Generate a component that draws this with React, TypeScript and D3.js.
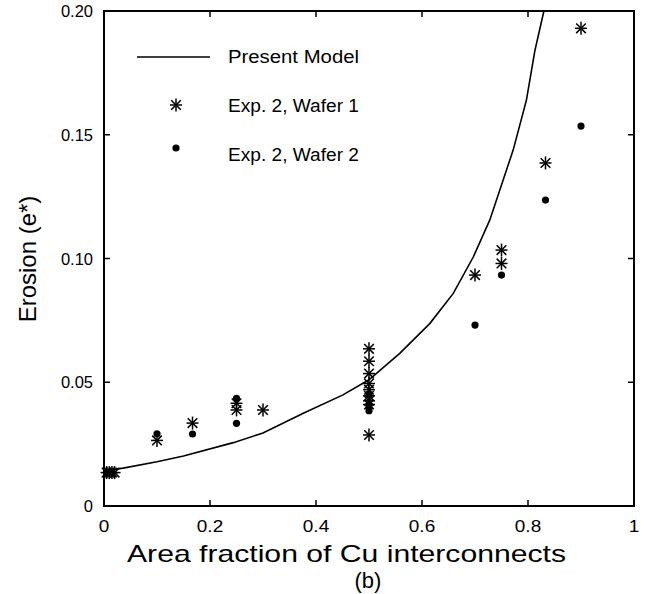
import React from 'react';
import * as d3 from 'd3';

// values
const modelX = [0, 0.036, 0.1, 0.15, 0.244, 0.3, 0.376, 0.45, 0.5, 0.558, 0.615, 0.659, 0.697, 0.728, 0.772, 0.797, 0.813, 0.83];
const modelY = [0.0142, 0.0153, 0.0179, 0.0202, 0.0256, 0.0295, 0.0375, 0.0448, 0.051, 0.0617, 0.0738, 0.0859, 0.1007, 0.1156, 0.1438, 0.164, 0.184, 0.2];

const wafer1X = [0.005, 0.01, 0.015, 0.02, 0.1, 0.167, 0.25, 0.25, 0.3, 0.5, 0.5, 0.5, 0.5, 0.5, 0.5, 0.5, 0.5, 0.5, 0.7, 0.75, 0.75, 0.833, 0.9];
const wafer1Y = [0.0135, 0.0135, 0.0135, 0.0135, 0.0265, 0.0335, 0.0415, 0.0388, 0.0388, 0.0635, 0.0585, 0.0535, 0.0495, 0.047, 0.0445, 0.0425, 0.041, 0.0287, 0.0933, 0.1034, 0.098, 0.1386, 0.193];

const wafer2X = [0.005, 0.015, 0.1, 0.167, 0.25, 0.25, 0.5, 0.5, 0.5, 0.7, 0.75, 0.833, 0.9];
const wafer2Y = [0.0135, 0.0135, 0.0292, 0.0291, 0.0435, 0.0334, 0.045, 0.0405, 0.0385, 0.0731, 0.0933, 0.1236, 0.1535];

const xTicks = [0, 0.2, 0.4, 0.6, 0.8, 1];
const yTicks = [0, 0.05, 0.1, 0.15, 0.2];
const xTickLabels = ['0', '0.2', '0.4', '0.6', '0.8', '1'];
const yTickLabels = ['0', '0.05', '0.10', '0.15', '0.20'];

const legendLabels = ['Present Model', 'Exp. 2, Wafer 1', 'Exp. 2, Wafer 2'];

const W = 655;
const H = 594;
const margin = { top: 11, right: 21, bottom: 88, left: 104 };
const font = '"Liberation Sans", Arial, Helvetica, sans-serif';

const Star: React.FC<{ cx: number; cy: number }> = ({ cx, cy }) => (
  <g stroke="#000" strokeWidth={1.5} transform={`translate(${cx},${cy})`}>
    <line x1={0} y1={-6.5} x2={0} y2={6.5} />
    <line x1={-6} y1={0} x2={6} y2={0} />
    <line x1={-4.8} y1={-4.8} x2={4.8} y2={4.8} />
    <line x1={-4.8} y1={4.8} x2={4.8} y2={-4.8} />
  </g>
);

export default function App() {
  const innerW = W - margin.left - margin.right;
  const innerH = H - margin.top - margin.bottom;
  const x = d3.scaleLinear().domain([0, 1]).range([margin.left, margin.left + innerW]);
  const y = d3.scaleLinear().domain([0, 0.2]).range([margin.top + innerH, margin.top]);

  const line = d3.line<number>()
    .x((_, i) => x(modelX[i]))
    .y((d) => y(d));

  const x0 = margin.left;
  const x1 = margin.left + innerW;
  const y0 = margin.top + innerH;
  const y1 = margin.top;
  const tick = 6;

  return (
    <div style={{ position: 'absolute', left: 0, top: 0 }}>
      <svg width={W} height={H} style={{ display: 'block', background: '#fff' }} fontFamily={font}>
        <defs>
          <clipPath id="plotClip">
            <rect x={x0} y={y1} width={innerW} height={innerH} />
          </clipPath>
        </defs>

        {/* ticks, inward on all four sides */}
        {xTicks.slice(1, -1).map((t) => (
          <g key={`xt${t}`} stroke="#000" strokeWidth={1.5}>
            <line x1={x(t)} x2={x(t)} y1={y0} y2={y0 - tick} />
            <line x1={x(t)} x2={x(t)} y1={y1} y2={y1 + tick} />
          </g>
        ))}
        {yTicks.slice(1, -1).map((t) => (
          <g key={`yt${t}`} stroke="#000" strokeWidth={1.5}>
            <line x1={x0} x2={x0 + tick} y1={y(t)} y2={y(t)} />
            <line x1={x1} x2={x1 - tick} y1={y(t)} y2={y(t)} />
          </g>
        ))}

        {/* tick labels */}
        {xTicks.map((t, i) => (
          <g key={`xl${t}`} transform={`translate(${x(t)},532) scale(1.15,1)`}>
            <text textAnchor="middle" fontSize={16.5} fill="#000">{xTickLabels[i]}</text>
          </g>
        ))}
        {yTicks.map((t, i) => (
          <text key={`yl${t}`} x={93} y={y(t) + 6} textAnchor="end" fontSize={16.5} fill="#000">
            {yTickLabels[i]}
          </text>
        ))}

        {/* model curve */}
        <path d={line(modelY) ?? ''} fill="none" stroke="#000" strokeWidth={1.6} clipPath="url(#plotClip)" />

        {/* wafer 2 dots */}
        {wafer2X.map((v, i) => (
          <circle key={`w2${i}`} cx={x(v)} cy={y(wafer2Y[i])} r={3.6} fill="#000" />
        ))}

        {/* wafer 1 stars */}
        {wafer1X.map((v, i) => (
          <Star key={`w1${i}`} cx={x(v)} cy={y(wafer1Y[i])} />
        ))}

        {/* frame */}
        <rect x={x0} y={y1} width={innerW} height={innerH} fill="none" stroke="#000" strokeWidth={2} />

        {/* legend */}
        <line x1={137} x2={210} y1={57} y2={57} stroke="#000" strokeWidth={1.6} />
        <Star cx={176} cy={105} />
        <circle cx={176} cy={148} r={3.6} fill="#000" />
        {legendLabels.map((l, i) => (
          <text key={l} x={228} y={63 + i * 49} fontSize={17.5} textLength={131} lengthAdjust="spacingAndGlyphs" fill="#000">
            {l}
          </text>
        ))}

        {/* axis titles */}
        <text x={127} y={562} fontSize={24} textLength={439} lengthAdjust="spacingAndGlyphs" fill="#000">
          Area fraction of Cu interconnects
        </text>
        <text x={368} y={588} textAnchor="middle" fontSize={22} fill="#000">(b)</text>
        <text transform={`translate(36,259) rotate(-90)`} textAnchor="middle" fontSize={24} fill="#000">
          Erosion (e*)
        </text>
      </svg>
    </div>
  );
}
